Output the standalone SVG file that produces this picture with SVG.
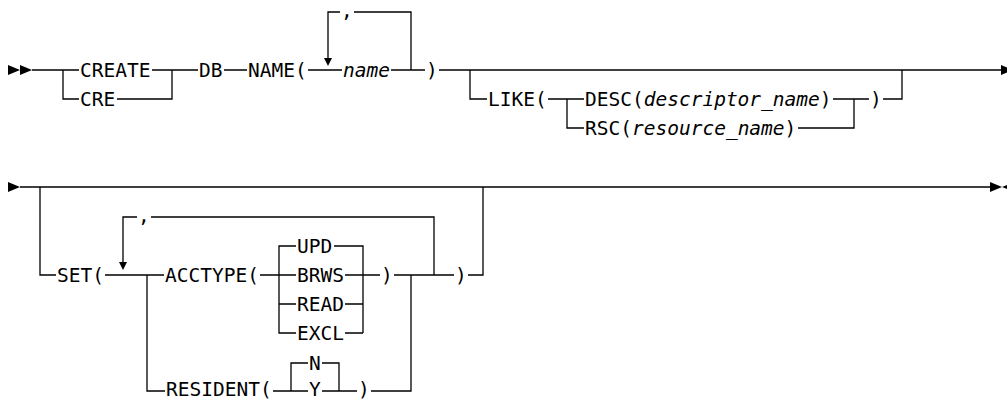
<svg xmlns="http://www.w3.org/2000/svg" width="1007" height="400" viewBox="0 0 1007 400">
<style>
.t{font-family:"DejaVu Sans Mono","Liberation Mono",monospace;font-size:19.5px;fill:#000}
.i{font-style:italic}
.c{fill:none;stroke:#000;stroke-width:1.3}
.a{fill:#000;stroke:none}
</style>
<rect width="1007" height="400" fill="#fff"/>
<g id="connectors">
  <path class="c" d="M32,70 H79 M63,70 V99 H79 M152,70 H198 M117,99 H172 V70 M224,70 H247 M308,70 H342 M391,70 H425 M439,70 H1001"/>
  <path class="c" d="M328,58 V12 H340 M354,12 H411 V70"/>
  <path class="c" d="M470,70 V99 H487 M548,99 H584 M567,99 V128 H584 M833,99 H869 M798,128 H854 V99 M883,99 H902 V70"/>
  <path class="c" d="M20,187 H990 M40,187 V275 H56 M105,275 H164 M123,262 V217 H137 M151,217 H434 V275"/>
  <path class="c" d="M260,275 H296 M296,246 H279 V333 H296 M279,304 H296 M334,246 H363 V333 M345,275 H380 M345,304 H363 M345,333 H363 M394,275 H454 M468,275 H483 V187"/>
  <path class="c" d="M147,275 V391 H165 M273,391 H308 M291,391 V363 H308 M322,363 H339 V391 M322,391 H357 M371,391 H411 V275"/>
  <polygon class="a" points="8,65 8,75 20,70"/>
  <polygon class="a" points="20,65 20,75 32,70"/>
  <polygon class="a" points="1001,65 1001,75 1013,70"/>
  <polygon class="a" points="324,58 332,58 328,66"/>
  <polygon class="a" points="8,182 8,192 20,187"/>
  <polygon class="a" points="990,182 990,192 1002,187"/>
  <polygon class="a" points="1014,182 1014,192 1002,187"/>
  <polygon class="a" points="119,262 127,262 123,270"/>
</g>
<g id="create"><text class="t" x="80" y="77">CREATE</text></g>
<g id="cre"><text class="t" x="80" y="106">CRE</text></g>
<g id="db"><text class="t" x="199" y="77">DB</text></g>
<g id="name-open"><text class="t" x="248" y="77">NAME(</text></g>
<g id="name-sep"><text class="t" x="341" y="17">,</text></g>
<g id="name"><text class="t i" x="343" y="77">name</text></g>
<g id="name-close"><text class="t" x="426" y="77">)</text></g>
<g id="like-open"><text class="t" x="488" y="106">LIKE(</text></g>
<g id="desc"><text class="t" x="585" y="106">DESC(<tspan class="i">descriptor_name</tspan>)</text></g>
<g id="rsc"><text class="t" x="585" y="135">RSC(<tspan class="i">resource_name</tspan>)</text></g>
<g id="like-close"><text class="t" x="870" y="106">)</text></g>
<g id="set-open"><text class="t" x="57" y="282">SET(</text></g>
<g id="set-sep"><text class="t" x="138" y="222">,</text></g>
<g id="acctype-open"><text class="t" x="165" y="282">ACCTYPE(</text></g>
<g id="upd"><text class="t" x="297" y="253">UPD</text></g>
<g id="brws"><text class="t" x="297" y="282">BRWS</text></g>
<g id="read"><text class="t" x="297" y="311">READ</text></g>
<g id="excl"><text class="t" x="297" y="340">EXCL</text></g>
<g id="acctype-close"><text class="t" x="381" y="282">)</text></g>
<g id="set-close"><text class="t" x="455" y="282">)</text></g>
<g id="resident-open"><text class="t" x="166" y="396">RESIDENT(</text></g>
<g id="n"><text class="t" x="309" y="370">N</text></g>
<g id="y"><text class="t" x="309" y="396">Y</text></g>
<g id="resident-close"><text class="t" x="358" y="396">)</text></g>
</svg>
